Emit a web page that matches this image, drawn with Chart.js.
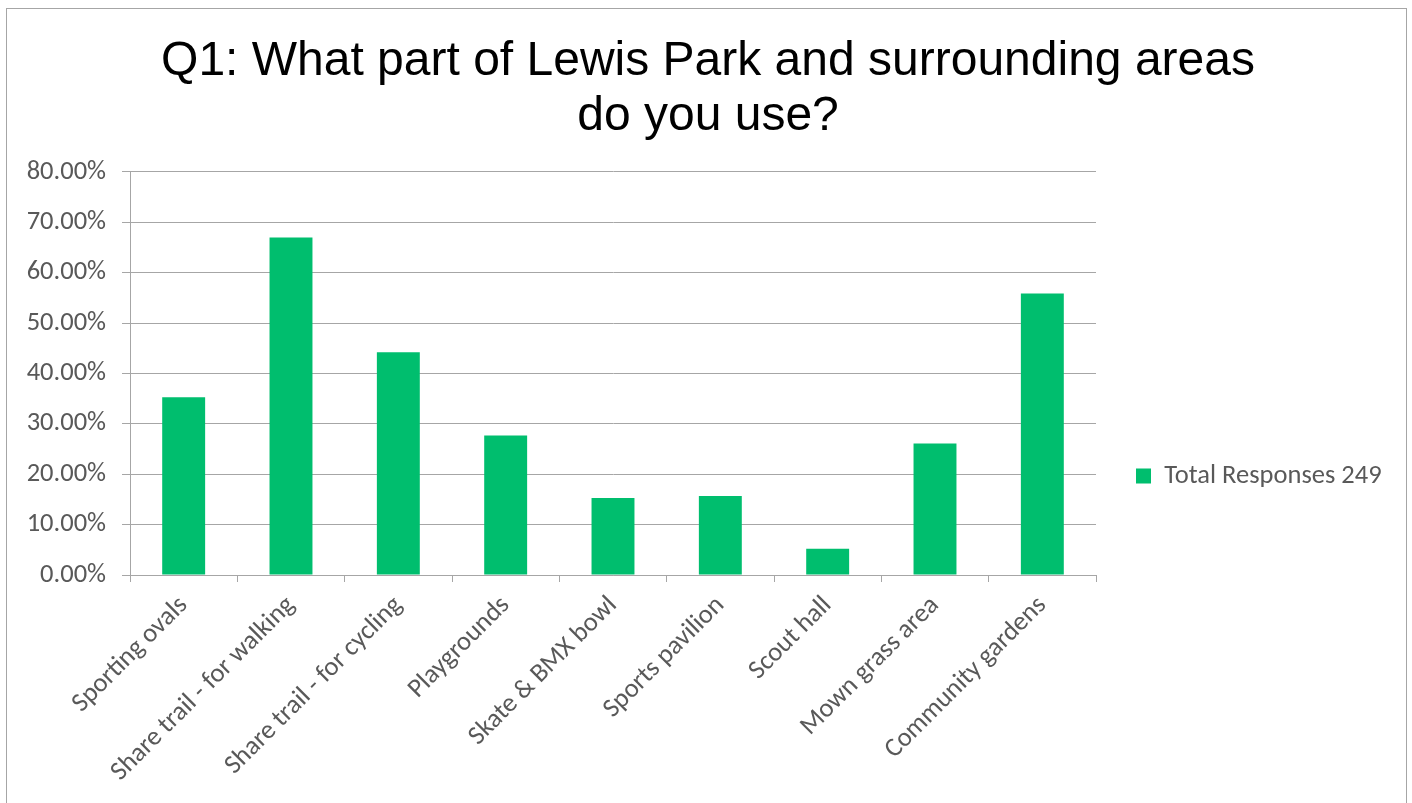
<!DOCTYPE html>
<html>
<head>
<meta charset="utf-8">
<script src="https://cdn.jsdelivr.net/npm/chart.js@4.4.0/dist/chart.umd.min.js"></script>
<style>
  html, body { margin: 0; padding: 0; background: #ffffff; }
  #wrap { position: relative; width: 1412px; height: 803px; overflow: hidden; }
  #frame { position: absolute; left: 6px; top: 8px; width: 1401px; height: 820px; border: 1px solid #a6a6a6; box-sizing: border-box; pointer-events: none; }
  canvas { position: absolute; left: 0; top: 0; }
</style>
</head>
<body>
<div id="wrap">
  <canvas id="c" width="1412" height="803" style="width:1412px;height:803px;"></canvas>
  <div id="frame"></div>
</div>
<script>
const titleLines = ["Q1: What part of Lewis Park and surrounding areas", "do you use?"];
const categories = [
  "Sporting ovals",
  "Share trail - for walking",
  "Share trail - for cycling",
  "Playgrounds",
  "Skate & BMX bowl",
  "Sports pavilion",
  "Scout hall",
  "Mown grass area",
  "Community gardens"
];
const seriesName = "Total Responses 249";
const seriesValues = [35.3, 67.0, 44.2, 27.7, 15.3, 15.7, 5.2, 26.1, 55.9];
const yTicks = [0, 10, 20, 30, 40, 50, 60, 70, 80];

const FONT = "Calibri, Carlito, Lato, sans-serif";
const FONT_SIZE = 26.5;
const GRAY_TEXT = "#595959";
const GRID = "#a6a6a6";
const BAR = "#00be6e";

// layout targets
const PLOT_LEFT = 130, PLOT_RIGHT = 1096, PLOT_TOP = 172, PLOT_BOTTOM = 575;
const W = 1412, H = 803;
const TITLE_CENTER = 708;
const LEG_PAD = 40, LEG_BOX = 15;

const mctx = document.createElement('canvas').getContext('2d');
mctx.font = FONT_SIZE + "px " + FONT;
const legTextW = mctx.measureText(seriesName).width;
const legendWidth = LEG_PAD + LEG_BOX + FONT_SIZE / 2 + legTextW + 10;
const padRight = Math.max(0, W - PLOT_RIGHT - legendWidth);
// keep title centred at TITLE_CENTER: (padLeft + W - padRight)/2 = TITLE_CENTER
const padLeft = Math.max(0, 2 * TITLE_CENTER - W + padRight);

new Chart(document.getElementById('c'), {
  type: 'bar',
  data: {
    labels: categories,
    datasets: [{
      label: seriesName,
      data: seriesValues,
      backgroundColor: BAR,
      borderWidth: 0,
      barPercentage: 0.4,
      categoryPercentage: 1.0
    }]
  },
  options: {
    responsive: false,
    animation: false,
    devicePixelRatio: 1,
    layout: { padding: { left: padLeft, right: padRight, top: 0, bottom: 0 } },
    plugins: {
      title: {
        display: true,
        text: titleLines,
        color: '#000000',
        font: { family: "'Liberation Sans', Arial, sans-serif", size: 48, weight: 'normal', lineHeight: 1.156 },
        padding: { top: 34, bottom: 27 }
      },
      legend: {
        display: true,
        position: 'right',
        align: 'start',
        fullSize: false,
        title: {
          display: true,
          text: ' ',
          font: { family: FONT, size: 24, lineHeight: 1.2 },
          padding: { top: 222, bottom: 0 }
        },
        labels: {
          boxWidth: LEG_BOX,
          boxHeight: LEG_BOX,
          padding: LEG_PAD,
          color: GRAY_TEXT,
          font: { family: FONT, size: FONT_SIZE }
        }
      },
      tooltip: { enabled: false }
    },
    scales: {
      x: {
        afterFit: (s) => { s.height = H - PLOT_BOTTOM; },
        grid: {
          display: true,
          drawOnChartArea: false,
          drawTicks: true,
          tickLength: 7,
          color: GRID,
          offset: true
        },
        border: { display: true, color: GRID, width: 1 },
        ticks: {
          autoSkip: false,
          minRotation: 45,
          maxRotation: 45,
          padding: 8,
          color: GRAY_TEXT,
          font: { family: FONT, size: FONT_SIZE }
        }
      },
      y: {
        min: 0,
        max: 80,
        afterFit: (s) => { s.width = PLOT_LEFT - padLeft; },
        afterBuildTicks: (s) => { s.ticks = yTicks.map(v => ({ value: v })); },
        grid: {
          display: true,
          drawOnChartArea: true,
          drawTicks: true,
          tickLength: 8,
          color: GRID,
          lineWidth: 1
        },
        border: { display: true, color: GRID, width: 1 },
        ticks: {
          padding: 16,
          color: GRAY_TEXT,
          font: { family: FONT, size: FONT_SIZE },
          callback: (v) => Number(v).toFixed(2) + '%'
        }
      }
    }
  }
});
</script>
</body>
</html>
